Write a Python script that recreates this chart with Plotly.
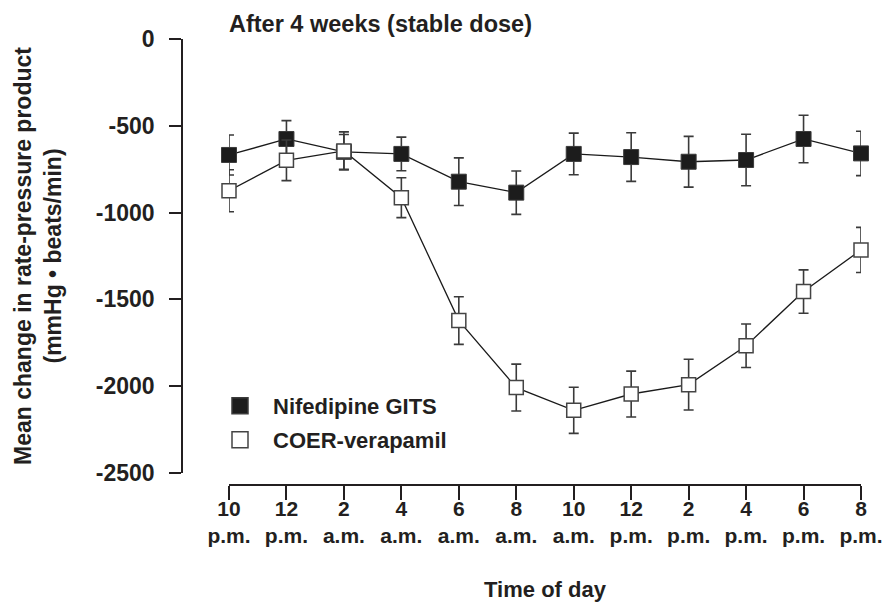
import plotly.graph_objects as go

hours = ["10", "12", "2", "4", "6", "8", "10", "12", "2", "4", "6", "8"]
periods = ["p.m.", "p.m.", "a.m.", "a.m.", "a.m.", "a.m.", "a.m.", "p.m.", "p.m.", "p.m.", "p.m.", "p.m."]
x_idx = list(range(len(hours)))

nife_mean = [-668, -576, -650, -662, -822, -885, -662, -680, -707, -697, -576, -659]
nife_se = [115, 106, 100, 97, 137, 125, 120, 140, 146, 148, 137, 128]

vera_mean = [-874, -699, -645, -914, -1622, -2008, -2139, -2045, -1991, -1767, -1455, -1215]
vera_se = [121, 117, 110, 115, 137, 135, 133, 132, 146, 125, 125, 130]

y_ticks = [0, -500, -1000, -1500, -2000, -2500]

FONT = "Liberation Sans"
INK = "#231f20"
ticktext = [f"<b>{h}</b><br><b>{p}</b>" for h, p in zip(hours, periods)]

fig = go.Figure()

fig.add_trace(go.Scatter(
    x=x_idx, y=nife_mean, mode="lines+markers", showlegend=False, cliponaxis=False,
    line=dict(color="#1a1a1a", width=1.3),
    marker=dict(symbol="square", size=15, color="#1c1c1c", line=dict(color="#3a3a3a", width=1)),
    error_y=dict(type="data", array=nife_se, visible=True, color="#3a3a3a", thickness=1.6, width=5),
))
fig.add_trace(go.Scatter(
    x=x_idx, y=vera_mean, mode="lines+markers", showlegend=False, cliponaxis=False,
    line=dict(color="#1a1a1a", width=1.3),
    marker=dict(symbol="square", size=14, color="white", line=dict(color="#444444", width=1.5)),
    error_y=dict(type="data", array=vera_se, visible=True, color="#3a3a3a", thickness=1.6, width=5),
))

# legend-only entries
fig.add_trace(go.Scatter(
    x=[None], y=[None], mode="markers", name="<b>Nifedipine GITS</b>", legend="legend",
    marker=dict(symbol="square", size=16, color="#1c1c1c", line=dict(color="#3a3a3a", width=1.5)),
))
fig.add_trace(go.Scatter(
    x=[None], y=[None], mode="markers", name="<b>COER-verapamil</b>", legend="legend2",
    marker=dict(symbol="square", size=16, color="white", line=dict(color="#444444", width=1.5)),
))

L, R, T, B = 182, 24, 39, 117
W, H = 885, 602
pw, ph = W - L - R, H - T - B

leg_common = dict(xanchor="left", yanchor="middle", itemwidth=56,
                  font=dict(size=22, family=FONT, color=INK), bgcolor="rgba(0,0,0,0)",
                  itemsizing="trace")

fig.update_layout(
    width=W, height=H,
    margin=dict(l=L, r=R, t=T, b=B, autoexpand=False),
    paper_bgcolor="white", plot_bgcolor="white",
    font=dict(family=FONT, color=INK),
    title=dict(text="<b>After 4 weeks (stable dose)</b>", x=229 / W, xanchor="left",
               xref="container", yref="container", y=1 - 24 / H, yanchor="middle",
               font=dict(size=23.5, family=FONT, color=INK)),
    xaxis=dict(
        domain=[(229 - L) / pw, 1], range=[0, 11], anchor="free", position=0,
        tickmode="array", tickvals=x_idx, ticktext=ticktext,
        tickfont=dict(size=21, family=FONT, color=INK),
        showline=True, linecolor=INK, linewidth=1.5,
        ticks="outside", ticklen=14, tickwidth=1.5, tickcolor=INK,
        ticklabelstandoff=-9,
        showgrid=False, zeroline=False, automargin=False,
        title=dict(text="<b>Time of day</b>", font=dict(size=22, family=FONT, color=INK), standoff=39),
    ),
    yaxis=dict(
        domain=[(485 - 473) / ph, 1], range=[-2500, 0], anchor="free", position=0,
        tickmode="array", tickvals=y_ticks, ticktext=[f"<b>{v}</b>" for v in y_ticks],
        tickfont=dict(size=23, family=FONT, color=INK),
        showline=True, linecolor=INK, linewidth=1.5,
        ticks="outside", ticklen=12, tickwidth=1.5, tickcolor=INK,
        ticklabelstandoff=10,
        showgrid=False, zeroline=False, automargin=False,
        title=dict(text="<b>Mean change in rate-pressure product<br>(mmHg • beats/min)</b>",
                   font=dict(size=23, family=FONT, color=INK), standoff=27),
    ),
    legend=dict(x=(207 - L) / pw, y=(485 - 406) / ph, **leg_common),
    legend2=dict(x=(207 - L) / pw, y=(485 - 440) / ph, **leg_common),
)

fig.write_html("out.html")
